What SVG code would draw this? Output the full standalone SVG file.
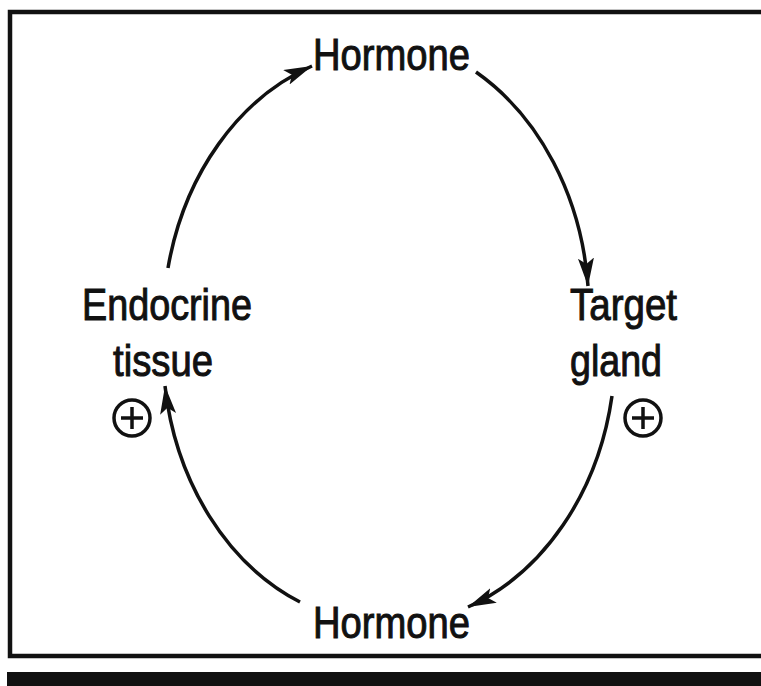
<svg xmlns="http://www.w3.org/2000/svg" width="761" height="686" viewBox="0 0 761 686">
<style>
.t{font-family:"Liberation Sans",Arial,sans-serif;font-size:44px;fill:#111;stroke:#111;stroke-width:1;}
.c{fill:none;stroke:#111;stroke-width:3.5;}
.frame{fill:none;stroke:#111;stroke-width:4.5;}
</style>
<defs>
<marker id="ah" markerUnits="userSpaceOnUse" markerWidth="32" markerHeight="18" refX="28" refY="8" orient="auto">
<path d="M0,0 L28,8 L0,16 L6,8 Z" fill="#111"/>
</marker>
</defs>
<rect width="761" height="686" fill="#fff"/>
<g id="frame">
<path class="frame" d="M765,12 L10,12 L10,656 L765,656"/>
<rect x="7" y="672" width="760" height="16" fill="#111"/>
</g>
<g id="connectors">
<path class="c" marker-end="url(#ah)" d="M168,268 A225,275 0 0 1 312,66"/>
<path class="c" marker-end="url(#ah)" d="M476,72 A225,275 0 0 1 588,286"/>
<path class="c" marker-end="url(#ah)" d="M612,396 A225,275 0 0 1 468,607"/>
<path class="c" marker-end="url(#ah)" d="M300,602 A225,275 0 0 1 165,386"/>
</g>
<g id="hormone-top"><text class="t" x="313" y="70" textLength="157" lengthAdjust="spacingAndGlyphs">Hormone</text></g>
<g id="endocrine-tissue">
<text class="t" x="82" y="320" textLength="170" lengthAdjust="spacingAndGlyphs">Endocrine</text>
<text class="t" x="113" y="376" textLength="100" lengthAdjust="spacingAndGlyphs">tissue</text>
<g class="c"><circle cx="132" cy="418" r="18"/><path d="M121,418 H143 M132,407 V429"/></g>
</g>
<g id="target-gland">
<text class="t" x="570" y="320" textLength="107" lengthAdjust="spacingAndGlyphs">Target</text>
<text class="t" x="570" y="376" textLength="92" lengthAdjust="spacingAndGlyphs">gland</text>
<g class="c"><circle cx="643" cy="418" r="18"/><path d="M632,418 H654 M643,407 V429"/></g>
</g>
<g id="hormone-bottom"><text class="t" x="313" y="638" textLength="157" lengthAdjust="spacingAndGlyphs">Hormone</text></g>
</svg>
